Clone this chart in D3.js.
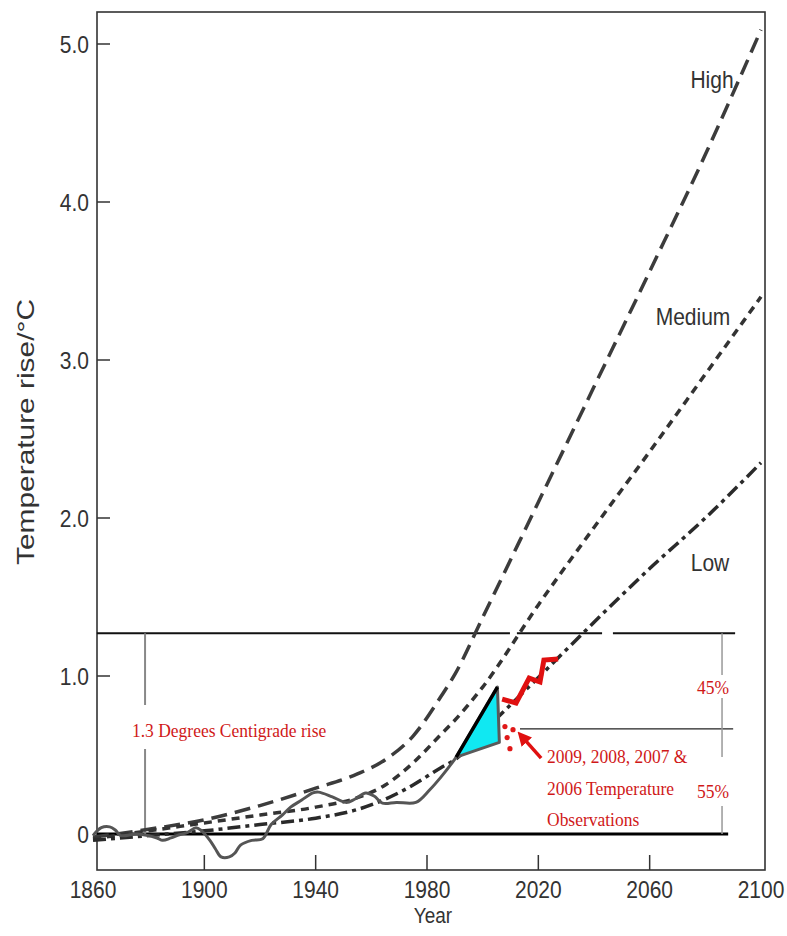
<!DOCTYPE html>
<html>
  <head>
    <script src="https://d3js.org/d3.v7.min.js"></script>
    <style>
      body { margin: 0; background: #fff; }
      .tick-label { font-family: "Liberation Sans", Arial, sans-serif; font-size: 21px; fill: #333; }
      .red-note { font-family: "Liberation Serif", "Times New Roman", serif; font-size: 17.5px; fill: #d01818; }
    </style>
  </head>
  <body>
    <svg id="chart" width="787" height="936"></svg>
    <script>
      // Observed temperature (solid grey wiggle)
      var obsYears = [1860,1863,1866,1868,1870,1876,1883,1885,1888,1891,1894,1897,1899,1902,1904,1906,1909,1911,1913,1917,1921,1924,1928,1931,1935,1939,1941,1946,1951,1954,1958,1961,1964,1969,1976,1981,1985,1989,1990.5];
      var obsTemp  = [-0.01,0.04,0.045,0.025,-0.01,0,-0.025,-0.04,-0.025,-0.005,0.01,0.04,0.02,-0.04,-0.095,-0.145,-0.145,-0.12,-0.07,-0.04,-0.03,0.06,0.12,0.17,0.215,0.26,0.265,0.235,0.2,0.22,0.26,0.24,0.195,0.2,0.2,0.28,0.36,0.45,0.487];

      // Scenario projections
      var scenYears = [1860,1880,1900,1920,1940,1955,1965,1975,1985,1990,2000,2020,2040,2060,2080,2100];
      var highTemp  = [-0.02,0.03,0.09,0.18,0.29,0.38,0.47,0.62,0.87,1.01,1.37,2.10,2.83,3.56,4.30,5.09];
      var medTemp   = [-0.03,0.02,0.07,0.12,0.17,0.23,0.31,0.45,0.63,0.72,0.93,1.45,1.94,2.42,2.91,3.40];
      var lowTemp   = [-0.04,-0.01,0.02,0.06,0.10,0.155,0.22,0.31,0.42,0.47,0.645,0.99,1.34,1.68,2.00,2.35];

      // Cyan wedge and red overlays
      var wedgeYears = [1990.5, 2005.3, 2006];
      var wedgeTemp  = [0.487, 0.93, 0.58];
      var zigYears = [2007, 2012, 2016.7, 2020.6, 2022, 2027.1];
      var zigTemp  = [0.854, 0.829, 0.987, 0.962, 1.101, 1.108];
      var dotYears = [2008, 2010.9, 2008.8, 2009.8];
      var dotTemp  = [0.68, 0.66, 0.61, 0.54];

      var xTicks = [1860, 1900, 1940, 1980, 2020, 2060, 2100];
      var yTicks = [0, 1, 2, 3, 4, 5];
      var yTickLabels = ["0", "1.0", "2.0", "3.0", "4.0", "5.0"];

      var svg = d3.select("#chart");
      var x = d3.scaleLinear().domain([1860, 2100]).range([93, 761]);
      var y = d3.scaleLinear().domain([0, 5]).range([834, 44]);

      var frameL = 97, frameR = 765, frameT = 12, frameB = 870;

      // the scanned figure is a bit taller than wide, so stretch the glyphs
      function stretched(cls, tx, ty, sy, str, anchor) {
        return svg.append("text").attr("class", cls)
          .attr("transform", "translate(" + tx + "," + ty + ") scale(1," + sy + ")")
          .attr("text-anchor", anchor || "start")
          .text(str);
      }

      // frame
      svg.append("rect")
        .attr("x", frameL).attr("y", frameT)
        .attr("width", frameR - frameL).attr("height", frameB - frameT)
        .attr("fill", "none").attr("stroke", "#333").attr("stroke-width", 1.6);

      // inward ticks on the y axis
      svg.selectAll(".ytick").data(yTicks.slice(1)).enter().append("line")
        .attr("x1", frameL).attr("x2", frameL + 13)
        .attr("y1", function(d) { return y(d); }).attr("y2", function(d) { return y(d); })
        .attr("stroke", "#333").attr("stroke-width", 1.5);
      yTicks.forEach(function(d, i) {
        stretched("tick-label", 89, y(d) + 8.5, 1.17, yTickLabels[i], "end");
      });

      // inward ticks on the x axis
      svg.selectAll(".xtick").data(xTicks.slice(1, -1)).enter().append("line")
        .attr("x1", function(d) { return x(d); }).attr("x2", function(d) { return x(d); })
        .attr("y1", frameB).attr("y2", frameB - 15)
        .attr("stroke", "#333").attr("stroke-width", 1.5);
      xTicks.forEach(function(d) {
        stretched("tick-label", x(d), 898, 1.17, d, "middle");
      });

      stretched("tick-label", 433, 923, 1.15, "Year", "middle").style("font-size", "19px");
      svg.append("text").attr("class", "tick-label")
        .attr("transform", "translate(34,432) rotate(-90)")
        .attr("text-anchor", "middle")
        .style("font-size", "24px")
        .attr("textLength", 266).attr("lengthAdjust", "spacingAndGlyphs")
        .text("Temperature rise/°C");

      // annotation lines (1.3 degree band)
      var topSegs = [[1861.4, 2009.8], [2012.3, 2042.9], [2046.8, 2090.7]];
      svg.selectAll(".topseg").data(topSegs).enter().append("line")
        .attr("x1", function(d) { return x(d[0]); }).attr("x2", function(d) { return x(d[1]); })
        .attr("y1", y(1.27)).attr("y2", y(1.27))
        .attr("stroke", "#111").attr("stroke-width", 2);
      svg.append("line")
        .attr("x1", x(1861.4)).attr("x2", x(2088.2))
        .attr("y1", y(0)).attr("y2", y(0))
        .attr("stroke", "#000").attr("stroke-width", 3);
      svg.append("line")
        .attr("x1", x(2013.4)).attr("x2", x(2090))
        .attr("y1", y(0.665)).attr("y2", y(0.665))
        .attr("stroke", "#222").attr("stroke-width", 1.2);
      svg.append("line")
        .attr("x1", x(1878.7)).attr("x2", x(1878.7))
        .attr("y1", y(1.27)).attr("y2", y(0))
        .attr("stroke", "#888").attr("stroke-width", 2);
      svg.append("line")
        .attr("x1", x(2086)).attr("x2", x(2086))
        .attr("y1", y(1.27)).attr("y2", y(0))
        .attr("stroke", "#999").attr("stroke-width", 1.5);

      // white boxes behind the red notes break the vertical lines
      [[130, 705, 200, 44], [700, 675, 30, 23], [700, 757, 30, 49]].forEach(function(b) {
        svg.append("rect").attr("x", b[0]).attr("y", b[1]).attr("width", b[2]).attr("height", b[3]).attr("fill", "#fff");
      });

      // scenario curves
      var line = d3.line().curve(d3.curveMonotoneX)
        .x(function(d) { return x(d[0]); }).y(function(d) { return y(d[1]); });
      var scenarios = [
        { temps: highTemp, dash: "16,8", color: "#3c3c3c" },
        { temps: medTemp, dash: "8,6", color: "#333" },
        { temps: lowTemp, dash: "13,5,4,5", color: "#2a2a2a" }
      ];
      scenarios.forEach(function(s) {
        svg.append("path")
          .attr("d", line(d3.zip(scenYears, s.temps)))
          .attr("fill", "none").attr("stroke", s.color)
          .attr("stroke-width", 3.5).attr("stroke-dasharray", s.dash);
      });

      // observed record
      var obsLine = d3.line().curve(d3.curveCatmullRom)
        .x(function(d) { return x(d[0]); }).y(function(d) { return y(d[1]); });
      svg.append("path")
        .attr("d", obsLine(d3.zip(obsYears, obsTemp)))
        .attr("fill", "none").attr("stroke", "#555").attr("stroke-width", 3);

      // cyan wedge
      var wedge = d3.zip(wedgeYears, wedgeTemp);
      svg.append("path")
        .attr("d", d3.line().x(function(d) { return x(d[0]); }).y(function(d) { return y(d[1]); })(wedge) + "Z")
        .attr("fill", "#10e8f2").attr("stroke", "#5a5a5a").attr("stroke-width", 3)
        .attr("stroke-linejoin", "round");
      svg.append("line")
        .attr("x1", x(wedge[0][0])).attr("y1", y(wedge[0][1]))
        .attr("x2", x(wedge[1][0])).attr("y2", y(wedge[1][1]))
        .attr("stroke", "#000").attr("stroke-width", 3.5);

      // red zigzag
      svg.append("path")
        .attr("d", d3.line().x(function(d) { return x(d[0]); }).y(function(d) { return y(d[1]); })(d3.zip(zigYears, zigTemp)))
        .attr("fill", "none").attr("stroke", "#e01010").attr("stroke-width", 5)
        .attr("stroke-linejoin", "miter");

      // red observation dots
      svg.selectAll(".obsdot").data(d3.zip(dotYears, dotTemp)).enter().append("circle")
        .attr("cx", function(d) { return x(d[0]); }).attr("cy", function(d) { return y(d[1]); })
        .attr("r", 2.6).attr("fill", "#e01818");

      // red arrow
      svg.append("defs").append("marker")
        .attr("id", "arrow").attr("viewBox", "0 0 10 10")
        .attr("refX", 5).attr("refY", 5)
        .attr("markerWidth", 4).attr("markerHeight", 4)
        .attr("orient", "auto")
        .append("path").attr("d", "M0,0 L10,5 L0,10 Z").attr("fill", "#e01010");
      svg.append("line")
        .attr("x1", x(2021)).attr("y1", y(0.48))
        .attr("x2", x(2014.2)).attr("y2", y(0.615))
        .attr("stroke", "#e01010").attr("stroke-width", 3.5)
        .attr("marker-end", "url(#arrow)");

      // scenario labels
      [["High", 712, 88], ["Medium", 693, 325], ["Low", 710, 571]].forEach(function(l) {
        stretched("tick-label", l[1], l[2], 1.16, l[0], "middle");
      });

      // red notes
      stretched("red-note", 132, 737, 1.12, "1.3 Degrees Centigrade rise");
      stretched("red-note", 713, 694, 1.12, "45%", "middle");
      stretched("red-note", 713, 798, 1.12, "55%", "middle");
      [["2009, 2008, 2007 &", 763], ["2006 Temperature", 795], ["Observations", 826]].forEach(function(l) {
        stretched("red-note", 547, l[1], 1.12, l[0]);
      });
    </script>
  </body>
</html>
